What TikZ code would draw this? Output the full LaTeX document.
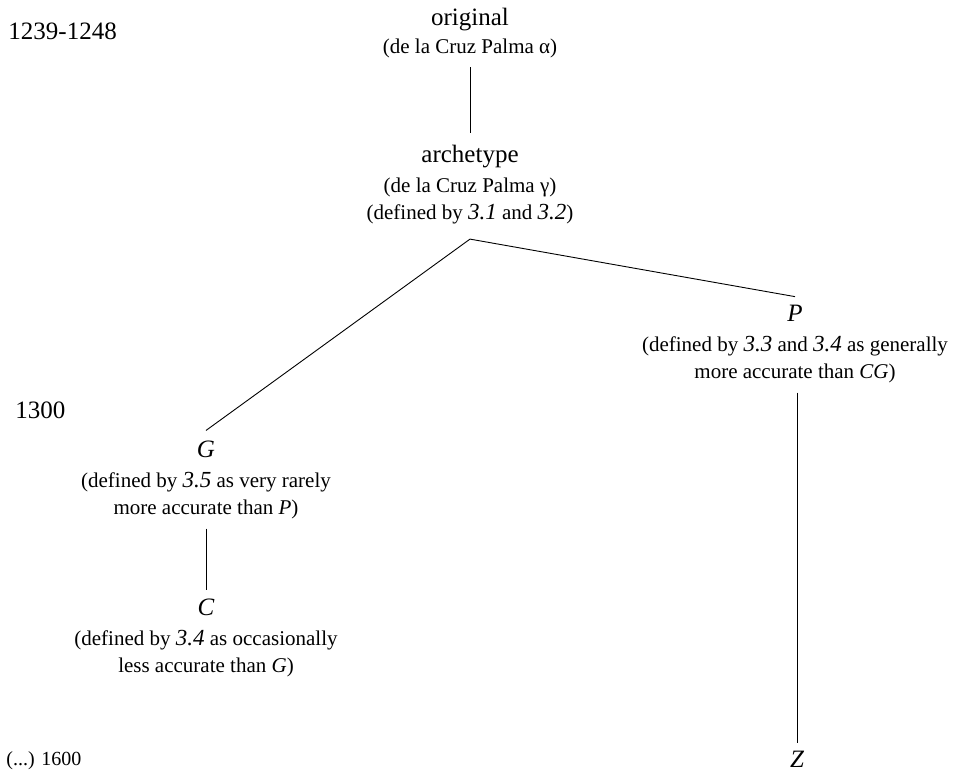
\documentclass[tikz,border=0pt]{standalone}
\usepackage{fontspec}
\setmainfont{Liberation Serif}
\usetikzlibrary{positioning}
\newcommand{\sect}[1]{{\fontsize{23}{26}\selectfont\itshape #1}}
\tikzset{
  witness/.style={inner sep=2pt,outer sep=6pt,font=\fontsize{25}{28}\selectfont},
  siglum/.style={witness,font=\fontsize{25}{28}\selectfont\itshape},
  witnote/.style={align=center,inner sep=2pt,outer sep=8pt,font=\fontsize{21}{27}\selectfont},
  datemark/.style={anchor=base west,inner sep=0pt,font=\fontsize{25}{28}\selectfont}
}
\begin{document}
\begin{tikzpicture}[x=1pt,y=-1pt,line width=0.9pt]
  \useasboundingbox (0,0) rectangle (953,771);
  % dates
  \node[datemark] (d1239) at (8,39) {1239-1248};
  \node[datemark] (d1300) at (15,418) {1300};
  \node[datemark,font=\fontsize{20}{24}\selectfont] (d1600) at (6,765) {(...) 1600};
  % witnesses
  \node[witness,anchor=base] (orig) at (470,25) {original};
  \node[witnote,anchor=base] (origd) at (470,53) {(de la Cruz Palma α)};
  \node[witness,anchor=base,outer sep=10pt] (arch) at (470,162) {archetype};
  \node[witnote,anchor=north,outer sep=13pt] (archd) at (470,163) {(de la Cruz Palma γ)\\(defined by \sect{3.1} and \sect{3.2})};
  \node[siglum,anchor=base] (P) at (795,321) {P};
  \node[witnote,anchor=north] (Pd) at (795,326) {(defined by \sect{3.3} and \sect{3.4} as generally\\more accurate than \textit{CG})};
  \node[siglum,anchor=base,outer sep=8pt] (G) at (206,457) {G};
  \node[witnote,anchor=north] (Gd) at (206,462) {(defined by \sect{3.5} as very rarely\\more accurate than \textit{P})};
  \node[siglum,anchor=base] (C) at (206,615) {C};
  \node[witnote,anchor=north] (Cd) at (206,620) {(defined by \sect{3.4} as occasionally\\less accurate than \textit{G})};
  \node[siglum,anchor=base] (Z) at (797,767) {Z};
  % stemma
  \draw (origd.south) -- (arch.north);
  \draw (archd.south) -- (G.north);
  \draw (archd.south) -- (P.north);
  \draw (Gd.south) -- (C.north);
  \draw (Pd.south -| Z.north) -- (Z.north);
\end{tikzpicture}
\end{document}
